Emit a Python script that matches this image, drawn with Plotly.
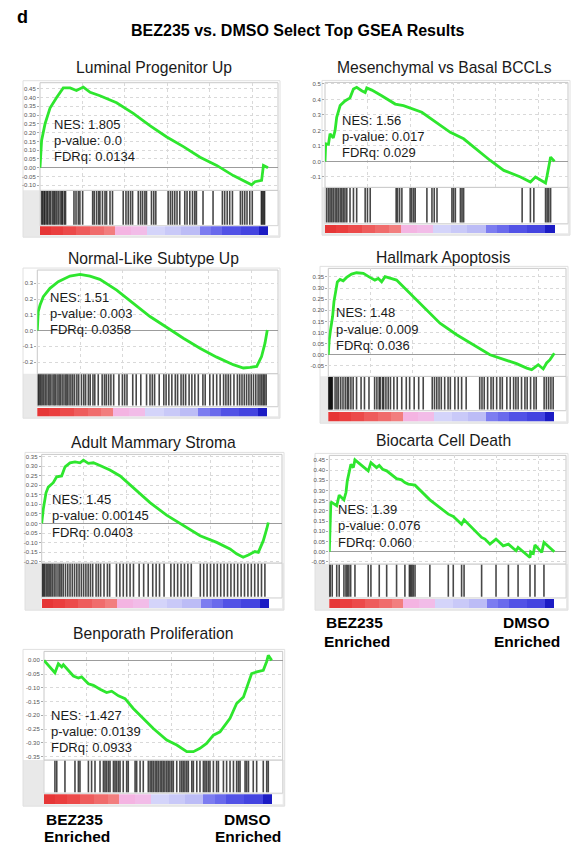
import plotly.graph_objects as go

W, H = 580, 846
FONT = "Liberation Sans, Arial, Helvetica, sans-serif"
GREEN = "#2ee62e"

# ---------------- data ----------------
# colour strip of the ranked gene list (BEZ235 side -> DMSO side), shared by all panels
strip_edges = [0, 5, 10, 16, 22, 28, 33, 40, 47, 55, 62, 70, 75, 80, 88, 96, 100]
strip_colors = ["#e63636", "#ea3e3e", "#ec4a4a", "#ee5c5c", "#f06c6c", "#f27e7e",
                "#f4b4e2", "#f2bce8", "#d4d4fa", "#c9c9f8", "#bcbcf6", "#7c7cf0",
                "#6a6aec", "#5252e6", "#4444e0", "#1c1cc4"]

titles = ["Luminal Progenitor Up", "Mesenchymal vs Basal BCCLs", "Normal-Like Subtype Up",
          "Hallmark Apoptosis", "Adult Mammary Stroma", "Biocarta Cell Death",
          "Benporath Proliferation"]
nes_vals = ["1.805", "1.56", "1.51", "1.48", "1.45", "1.39", "-1.427"]
p_vals = ["0.0", "0.017", "0.003", "0.009", "0.00145", "0.076", "0.0139"]
fdr_vals = ["0.0134", "0.029", "0.0358", "0.036", "0.0403", "0.060", "0.0933"]

# running enrichment scores (rank position in % of list, ES)
lum_x = [0, 0.7, 2.2, 4.4, 7.3, 10.2, 13.2, 16, 19, 22, 26.3, 33.6, 40.9, 48.2, 55.6,
         62.9, 70.2, 77.5, 84.8, 90.6, 92.8, 94.3, 97.2, 98, 100]
lum_y = [0, 0.155, 0.25, 0.34, 0.40, 0.455, 0.455, 0.44, 0.46, 0.43, 0.41, 0.37, 0.31,
         0.24, 0.175, 0.12, 0.06, 0.013, -0.045, -0.08, -0.097, -0.08, -0.072, 0.013, 0]
lum_hits = [0.7, 1.2, 1.8, 2.2, 2.9, 3.4, 4.1, 4.7, 5.5, 6.1, 6.6, 7.3, 8.0, 8.8, 9.5,
            9.9, 10.7, 11.2, 14.9, 15.8, 16.8, 17.5, 18.7, 23.1, 23.8, 24.8, 25.7, 26.3,
            27.4, 28.5, 29.2, 30.7, 31.8, 36.5, 37.7, 38.7, 39.7, 40.6, 43.1, 44.1, 45,
            46, 46.7, 48.9, 49.9, 50.8, 56.2, 57.2, 58.1, 59.1, 60.1, 61.3, 63.5, 64.5,
            65.7, 66.9, 67.9, 68.6, 71.5, 75.9, 80, 81, 82.1, 83.2, 84.4, 87.9, 88.8,
            89.8, 90.8, 92, 93.1, 97.1, 97.5, 98.1, 98.5]

mes_x = [0, 0.3, 1.5, 2.2, 3.6, 4.4, 5.1, 6.6, 8.7, 10.9, 12.4, 13.8, 16, 17.5, 18.2,
         20.4, 24.7, 30.6, 34.2, 39.3, 42.2, 54.6, 60.4, 72, 77.9, 85.2, 89.5, 91.7,
         96.1, 96.8, 98.3, 100]
mes_y = [0, 0.114, 0.11, 0.178, 0.152, 0.2, 0.285, 0.36, 0.39, 0.41, 0.467, 0.478,
         0.456, 0.445, 0.474, 0.46, 0.424, 0.37, 0.36, 0.33, 0.317, 0.188, 0.146, 0.006,
         -0.058, -0.1, -0.133, -0.1, -0.139, -0.09, 0.028, 0]
mes_hits = [0.7, 1.5, 2.2, 2.9, 3.6, 4.4, 5.1, 5.8, 6.6, 7.3, 8.0, 8.7, 9.5, 10.9, 12.4,
            13.8, 17.5, 18.5, 19.7, 31, 31.6, 32.5, 33.5, 37.1, 37.8, 38.6, 39.3, 44.4,
            46.6, 47.6, 48.8, 55.3, 56, 56.8, 59, 59.7, 60.4, 85.9, 89.5, 91, 96.1,
            96.8, 97.5, 98.3]

norm_x = [0, 0.4, 1.2, 2.6, 5.5, 9.1, 14.2, 18.6, 22.9, 27.2, 34.5, 41.7, 49, 56.2,
          63.5, 70.7, 78, 85.2, 89.6, 92.5, 95.4, 97.5, 99, 100]
norm_y = [0, 0.12, 0.162, 0.215, 0.268, 0.31, 0.346, 0.357, 0.346, 0.325, 0.257, 0.173,
          0.089, 0.021, -0.049, -0.112, -0.169, -0.217, -0.238, -0.234, -0.228, -0.165,
          -0.08, 0.004]
norm_hits = [0.4, 0.9, 1.5, 2.1, 2.8, 3.5, 4.2, 5, 5.6, 6.4, 7.2, 7.8, 8.6, 9.4, 10,
             10.8, 11.6, 12.4, 13, 13.8, 14.6, 15.4, 16.2, 17.2, 18, 19.2, 20.2, 21,
             22.2, 23, 24.2, 25, 26.5, 28.2, 29.2, 30, 31, 32, 33.2, 35.5, 37, 38, 39,
             41.5, 43, 45, 47.5, 49, 50, 51, 53, 55, 56, 57.2, 58.5, 60, 61, 62.5, 63.5,
             64.5, 66, 67.2, 68.5, 70, 72, 73, 75, 76.5, 78, 79.5, 81, 82, 83, 84, 85.5,
             87, 88, 89, 90, 91, 92, 93, 94, 95, 96, 96.8, 97.5, 98.2, 98.8, 99.5]

apo_x = [0, 0.4, 1, 1.9, 2.5, 3.4, 4, 5.2, 6.6, 8.1, 10.3, 12.5, 15.5, 18.4, 20.6, 22.1,
         23.6, 25.1, 27.3, 30.2, 33.2, 37.6, 42, 49.4, 56.8, 64.2, 71.5, 78.9, 83.3,
         87.8, 90, 92.9, 95.1, 96.6, 98.1, 100]
apo_y = [0, 0.067, 0.112, 0.172, 0.239, 0.291, 0.328, 0.339, 0.333, 0.348, 0.363, 0.369,
         0.366, 0.348, 0.336, 0.343, 0.328, 0.351, 0.346, 0.336, 0.306, 0.261, 0.216,
         0.142, 0.09, 0.045, 0, -0.025, -0.04, -0.06, -0.067, -0.045, -0.064, -0.037,
         -0.022, 0.007]
apo_hits = [0, 0.3, 0.6, 0.9, 1.2, 1.5, 1.8, 3, 3.8, 4.5, 5.5, 6.5, 7.5, 8.4, 9, 10, 11,
            12.5, 14.5, 16, 18, 20.5, 21.5, 22.5, 23, 24, 24.5, 25.5, 26.5, 27.5, 29,
            30.5, 32.5, 34.5, 36, 38, 40, 42, 46, 47, 48, 49, 50, 51.5, 53, 54, 56, 57.5,
            59, 61, 67, 68, 69, 70.5, 72, 73, 74.5, 76, 77, 79, 80.5, 82, 83, 84, 85.5,
            87, 88, 89.5, 91, 92, 95.5, 96.5, 97.5, 98.5, 99.5]

stroma_x = [0, 0.7, 1.9, 2.9, 5.1, 6.6, 8.8, 10.3, 12.5, 14.7, 16.9, 18.4, 20.6, 22.8,
            25.7, 30.1, 34.6, 40.4, 47.8, 55.1, 62.5, 69.9, 77.2, 83.1, 86, 88.9, 91.2,
            94.1, 95.6, 97.8, 99.3, 100]
stroma_y = [0, 0.075, 0.16, 0.19, 0.213, 0.244, 0.248, 0.296, 0.317, 0.322, 0.317, 0.331,
            0.314, 0.317, 0.303, 0.279, 0.248, 0.187, 0.109, 0.043, -0.012, -0.064,
            -0.099, -0.133, -0.159, -0.177, -0.165, -0.147, -0.151, -0.09, -0.029, 0.005]
stroma_hits = [0.3, 0.8, 1.3, 2, 2.7, 3.3, 4, 4.7, 5.5, 6.3, 7.2, 8, 8.7, 9.5, 10.5, 11.5,
               12.5, 13.5, 14.5, 15.5, 16.5, 17.5, 18.5, 19.5, 20.5, 21.5, 22.5, 24, 25,
               26, 27.5, 29, 30, 33, 34.5, 36, 37.5, 39, 40.5, 43, 45, 47, 49, 50.5, 52,
               54, 57, 58.5, 60, 61.5, 63, 64.5, 66, 70, 71.5, 73, 74.5, 76, 77.5, 79,
               80.5, 82, 83.5, 85, 86.5, 88, 89.5, 91, 92.5, 94, 95.5, 97, 98.5]

death_x = [0, 0.3, 0.7, 3.3, 4.4, 6.5, 7.4, 8, 8.9, 9.6, 10.7, 11.4, 17.3, 18.5, 21, 22.2,
           23.7, 25.5, 29.9, 32.1, 33.6, 35.1, 38.1, 44.7, 52.9, 55.1, 58.8, 59.9, 67.7,
           69.2, 71.4, 74.1, 77.3, 79.6, 83, 83.9, 89.2, 89.5, 90.7, 91.4, 94.4, 95.4, 100]
death_y = [0, 0.127, 0.244, 0.225, 0.277, 0.254, 0.29, 0.347, 0.396, 0.428, 0.412, 0.45,
           0.396, 0.436, 0.412, 0.423, 0.404, 0.396, 0.358, 0.352, 0.339, 0.331, 0.326,
           0.254, 0.184, 0.173, 0.135, 0.156, 0.07, 0.062, 0.037, 0.062, 0.029, 0.037,
           0.005, 0.021, -0.028, 0, -0.008, 0.033, -0.003, 0.046, 0]
death_hits = [0, 0.4, 1.3, 3.3, 4.4, 6.5, 7.4, 8, 8.7, 9.5, 11.4, 17.3, 18.5, 22.2, 25.5,
              29.9, 33.6, 35.6, 36.1, 36.7, 37.3, 38.1, 44.7, 52.9, 55.1, 58.8, 59.9,
              67.7, 74.1, 79.6, 83.9, 89.2, 91.4, 95.4]

prolif_x = [0, 2.6, 4.8, 6.3, 7.8, 8.5, 10, 12.9, 15.1, 16.5, 19.5, 21.7, 24.6, 27.5,
            29.7, 32.7, 35.6, 39.2, 43.6, 48, 53.9, 58.3, 62.7, 65.6, 68.5, 71.4, 74.4,
            77.3, 81.7, 84.6, 87.6, 89.8, 91.2, 93.4, 96.3, 97.8, 98.5, 100]
prolif_y = [0, -0.024, -0.045, -0.012, -0.024, -0.016, -0.03, -0.057, -0.064, -0.06,
            -0.085, -0.091, -0.105, -0.117, -0.112, -0.129, -0.139, -0.175, -0.211,
            -0.248, -0.29, -0.308, -0.332, -0.332, -0.32, -0.302, -0.272, -0.26, -0.211,
            -0.157, -0.133, -0.085, -0.048, -0.042, -0.036, -0.004, 0.018, 0]
prolif_hits = [4.8, 5.6, 9.2, 13.6, 15.1, 15.8, 19.5, 20.9, 22.4, 24.6, 26.1, 26.8, 27.5,
               28.3, 29, 30.5, 31.2, 31.9, 32.7, 33.4, 34.8, 36.3, 37, 40, 40.7, 42.2,
               43.6, 45.8, 46.6, 47.3, 48, 48.8, 49.5, 50.2, 51, 51.7, 52.4, 53.1, 53.9,
               54.6, 55.3, 56.1, 56.8, 58.3, 59.7, 60.5, 61.2, 61.9, 62.7, 63.4, 64.9,
               65.6, 67.1, 68.5, 70, 70.7, 71.4, 72.2, 72.9, 74.4, 75.8, 76.6, 78.8, 80.2,
               81.7, 83.2, 84.6, 85.4, 86.1, 88.3, 89, 89.8, 91.9, 93.4, 96.3, 97.8, 98.5]

# y tick labels of each ES axis: (top, bottom, step, decimals)
es_ticks = [(0.45, -0.10, 0.05, 2), (0.5, -0.1, 0.1, 1), (0.3, -0.2, 0.1, 1),
            (0.35, -0.05, 0.05, 2), (0.35, -0.20, 0.05, 2), (0.45, -0.05, 0.05, 2),
            (0.00, -0.35, 0.05, 2)]

curves = [(lum_x, lum_y, lum_hits), (mes_x, mes_y, mes_hits), (norm_x, norm_y, norm_hits),
          (apo_x, apo_y, apo_hits), (stroma_x, stroma_y, stroma_hits),
          (death_x, death_y, death_hits), (prolif_x, prolif_y, prolif_hits)]

# ---------------- panel boxes (pixels) ----------------
# fl: frame left, xa: rank-0 x, xe: rank-100 x, xr: plot right,
# yt/yb: ES area top/bottom, y0: ES zero line, s: px per ES unit,
# hb: hits band bottom, ct/cb: colour strip top/bottom,
# tx/ty: title centre, nx/ny: stats text left / first line, dy: stats spacing
boxes = [
    dict(fl=23, xa=40, xe=268, xr=278, yt=82, yb=190, y0=167.3, s=176, hb=225.5, ct=226, cb=235,
         tx=154, ty=67, nx=52, ny=124, dy=16),
    dict(fl=322, xa=325, xe=554.5, xr=568, yt=81.7, yb=187, y0=161, s=155.6, hb=223.5, ct=224.5, cb=233,
         tx=444, ty=67, nx=340, ny=120, dy=16),
    dict(fl=23, xa=37.3, xe=267.3, xr=278, yt=270, yb=374, y0=330.7, s=158, hb=407, ct=408, cb=416.7,
         tx=153, ty=258, nx=48.3, ny=297.3, dy=16),
    dict(fl=320, xa=328.3, xe=554.3, xr=566, yt=268.3, yb=376.7, y0=355, s=223, hb=411, ct=412, cb=421.7,
         tx=443, ty=257, nx=334.3, ny=312.7, dy=16.7),
    dict(fl=25, xa=41.7, xe=268.3, xr=282, yt=455, yb=564, y0=524.3, s=192, hb=599, ct=600, cb=609.3,
         tx=153, ty=443, nx=50, ny=500, dy=16.5),
    dict(fl=315, xa=329.3, xe=554.3, xr=566, yt=456, yb=565, y0=552.7, s=205, hb=599, ct=600, cb=609.3,
         tx=443, ty=441, nx=335.7, ny=510, dy=16.7),
    dict(fl=23, xa=44, xe=271.7, xr=282.7, yt=652.7, yb=761.7, y0=661.7, s=276, hb=795, ct=796, cb=806,
         tx=153, ty=635, nx=49.3, ny=716.7, dy=16),
]


def fx(px):
    return px / W


def fy(py):
    return 1 - py / H


def names(n):
    return ("x" if n == 1 else f"x{n}", "y" if n == 1 else f"y{n}",
            "xaxis" if n == 1 else f"xaxis{n}", "yaxis" if n == 1 else f"yaxis{n}")


fig = go.Figure()
layout_axes = {}
shapes = []
annotations = []

strip_centers = [(a + b) / 2 for a, b in zip(strip_edges[:-1], strip_edges[1:])]
strip_widths = [b - a for a, b in zip(strip_edges[:-1], strip_edges[1:])]

for i, ((cx, cy, hits), b) in enumerate(zip(curves, boxes)):
    xmax = 100 * (b["xr"] - b["xa"]) / (b["xe"] - b["xa"])
    xdom = [fx(b["xa"]), fx(b["xr"])]

    # panel background and frames
    shapes += [
        dict(type="rect", xref="paper", yref="paper", layer="below",
             x0=fx(b["fl"]), x1=fx(b["xr"] + 2), y0=fy(b["cb"] + 2), y1=fy(b["yb"]),
             fillcolor="#e9e9e9", line=dict(width=0)),
        dict(type="rect", xref="paper", yref="paper", layer="below",
             x0=fx(b["xa"]), x1=fx(b["xr"]), y0=fy(b["hb"]), y1=fy(b["yb"]),
             fillcolor="white", line=dict(color="#d4d4d4", width=1)),
        dict(type="rect", xref="paper", yref="paper", layer="below",
             x0=fx(b["xa"]), x1=fx(b["xr"]), y0=fy(b["cb"]), y1=fy(b["ct"]),
             fillcolor="white", line=dict(width=0)),
        dict(type="rect", xref="paper", yref="paper", layer="below",
             x0=fx(b["xa"]), x1=fx(b["xr"]), y0=fy(b["yb"]), y1=fy(b["yt"]),
             fillcolor="white", line=dict(color="#c8c8c8", width=1)),
        dict(type="rect", xref="paper", yref="paper", layer="below",
             x0=fx(b["fl"]), x1=fx(b["xr"] + 2), y0=fy(b["cb"] + 2), y1=fy(b["yt"] - 2),
             fillcolor="rgba(0,0,0,0)", line=dict(color="#e0e0e0", width=1)),
    ]

    top, bot, step, dec = es_ticks[i]
    nt = int(round((top - bot) / step)) + 1
    tvals = [round(top - k * step, 4) for k in range(nt)]
    ttext = [f"{abs(v):.{dec}f}" if abs(v) < 1e-9 else f"{v:.{dec}f}" for v in tvals]

    # --- ES curve ---
    n = 3 * i + 1
    xn, yn, xk, yk = names(n)
    layout_axes[xk] = dict(domain=xdom, range=[0, xmax], anchor=yn, showticklabels=False,
                           ticks="", showgrid=True, gridcolor="#d9d9d9", griddash="dot",
                           tick0=0, dtick=18.6, zeroline=False, showline=False,
                           fixedrange=True)
    layout_axes[yk] = dict(domain=[fy(b["yb"]), fy(b["yt"])],
                           range=[(b["y0"] - b["yb"]) / b["s"], (b["y0"] - b["yt"]) / b["s"]],
                           anchor=xn, tickvals=tvals, ticktext=ttext, ticks="outside",
                           ticklen=2, tickcolor="#aaaaaa",
                           tickfont=dict(size=6, color="#555555", family=FONT),
                           showgrid=True, gridcolor="#d9d9d9", griddash="dot",
                           zeroline=True, zerolinecolor="#9c9c9c", zerolinewidth=1,
                           showline=False, fixedrange=True)
    fig.add_trace(go.Scatter(x=cx, y=cy, mode="lines", xaxis=xn, yaxis=yn,
                             line=dict(color=GREEN, width=2.8), hoverinfo="skip",
                             showlegend=False))

    # --- hit marks ---
    n = 3 * i + 2
    xn, yn, xk, yk = names(n)
    layout_axes[xk] = dict(domain=xdom, range=[0, xmax], anchor=yn, visible=False,
                           fixedrange=True)
    layout_axes[yk] = dict(domain=[fy(b["hb"]), fy(b["yb"])], range=[0, 1], anchor=xn,
                           visible=False, fixedrange=True)
    hx, hy = [], []
    for h in hits:
        hx += [h, h, None]
        hy += [0.03, 0.98, None]
    fig.add_trace(go.Scatter(x=hx, y=hy, mode="lines", xaxis=xn, yaxis=yn,
                             line=dict(color="rgba(0,0,0,0.72)", width=1.6),
                             hoverinfo="skip", showlegend=False))

    # --- ranked list colour strip ---
    n = 3 * i + 3
    xn, yn, xk, yk = names(n)
    layout_axes[xk] = dict(domain=xdom, range=[0, xmax], anchor=yn, visible=False,
                           fixedrange=True)
    layout_axes[yk] = dict(domain=[fy(b["cb"]), fy(b["ct"])], range=[0, 1], anchor=xn,
                           visible=False, fixedrange=True)
    fig.add_trace(go.Bar(x=strip_centers, y=[1] * len(strip_centers), width=strip_widths,
                         base=0, xaxis=xn, yaxis=yn,
                         marker=dict(color=strip_colors, line=dict(width=0)),
                         hoverinfo="skip", showlegend=False))

    # --- panel title and statistics ---
    annotations.append(dict(text=titles[i], x=fx(b["tx"]), y=fy(b["ty"]), xref="paper",
                            yref="paper", xanchor="center", yanchor="middle",
                            showarrow=False,
                            font=dict(size=15.7, color="#1a1a1a", family=FONT)))
    stats = [f"NES: {nes_vals[i]}", f"p-value: {p_vals[i]}", f"FDRq: {fdr_vals[i]}"]
    for k, line in enumerate(stats):
        annotations.append(dict(text=line, x=fx(b["nx"]), y=fy(b["ny"] + k * b["dy"]),
                                xref="paper", yref="paper", xanchor="left",
                                yanchor="middle", showarrow=False,
                                font=dict(size=13, color="#1a1a1a", family=FONT)))

# figure-level text
annotations += [
    dict(text="<b>d</b>", x=fx(15), y=fy(16), xanchor="left", yanchor="middle",
         font=dict(size=18, color="black", family=FONT)),
    dict(text="<b>BEZ235 vs. DMSO Select Top GSEA Results</b>", x=fx(297.5), y=fy(30),
         xanchor="center", yanchor="middle", font=dict(size=16, color="black", family=FONT)),
]
side_labels = [("BEZ235", 354, 624), ("Enriched", 357, 643), ("DMSO", 526, 624),
               ("Enriched", 527, 643), ("BEZ235", 74, 821), ("Enriched", 77, 838),
               ("DMSO", 247, 821), ("Enriched", 248, 838)]
for txt, x, y in side_labels:
    annotations.append(dict(text=f"<b>{txt}</b>", x=fx(x), y=fy(y), xanchor="center",
                            yanchor="middle",
                            font=dict(size=15.5, color="black", family=FONT)))
for a in annotations:
    a.setdefault("xref", "paper")
    a.setdefault("yref", "paper")
    a.setdefault("showarrow", False)

fig.update_layout(
    width=W, height=H, margin=dict(l=0, r=0, t=0, b=0),
    paper_bgcolor="white", plot_bgcolor="rgba(0,0,0,0)",
    shapes=shapes, annotations=annotations, showlegend=False,
    font=dict(family=FONT), bargap=0,
    **layout_axes,
)

fig.write_html("out.html", config=dict(displayModeBar=False))
